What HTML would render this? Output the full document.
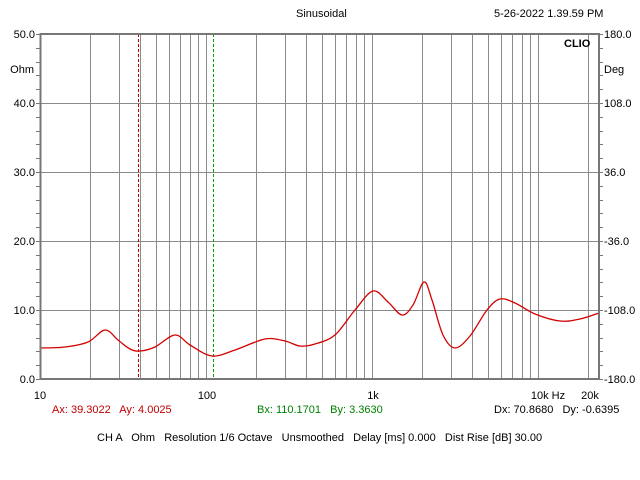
<!DOCTYPE html>
<html><head><meta charset="utf-8"><style>
html,body{margin:0;padding:0;background:#fff;}
svg{display:block;font-family:"Liberation Sans",Arial,sans-serif;font-size:11px;}
text{white-space:pre;}
</style></head><body>
<svg id="s" width="640" height="480" viewBox="0 0 640 480" xmlns="http://www.w3.org/2000/svg" xml:space="preserve">
<rect width="640" height="480" fill="#fff"/>
<g id="grid" stroke="#8a8a8a" stroke-width="1"></g>
<g id="ticks" stroke="#777" stroke-width="1"></g>
<line x1="138.5" y1="34" x2="138.5" y2="379" stroke="#c00000" stroke-width="1" stroke-dasharray="3,2"/>
<line x1="213.5" y1="34" x2="213.5" y2="379" stroke="#00a000" stroke-width="1" stroke-dasharray="3,2"/>
<path id="curve" fill="none" stroke="#d40000" stroke-width="1.3"/>
<rect x="40.5" y="34" width="558.5" height="345" fill="none" stroke="#777" stroke-width="2"/>
<text x="296" y="17">Sinusoidal</text>
<text x="494" y="17">5-26-2022 1.39.59 PM</text>
<text x="564" y="47" font-weight="bold">CLIO</text>
<g text-anchor="end">
<text x="35" y="38">50.0</text>
<text x="34" y="73">Ohm</text>
<text x="35" y="107">40.0</text>
<text x="35" y="176">30.0</text>
<text x="35" y="245">20.0</text>
<text x="35" y="314">10.0</text>
<text x="35" y="383">0.0</text>
</g>
<g>
<text x="604" y="38">180.0</text>
<text x="604" y="73">Deg</text>
<text x="604" y="107">108.0</text>
<text x="604" y="176">36.0</text>
<text x="604" y="245">-36.0</text>
<text x="604" y="314">-108.0</text>
<text x="604" y="383">-180.0</text>
</g>
<g text-anchor="middle">
<text x="40" y="399">10</text>
<text x="207" y="399">100</text>
<text x="373" y="399">1k</text>
<text x="548" y="399">10k Hz</text>
<text x="590" y="399">20k</text>
</g>
<text x="52" y="413" fill="#c00000">Ax: 39.3022   Ay: 4.0025</text>
<text x="257" y="413" fill="#008000">Bx: 110.1701   By: 3.3630</text>
<text x="494" y="413">Dx: 70.8680   Dy: -0.6395</text>
<text x="97" y="441">CH A   Ohm   Resolution 1/6 Octave   Unsmoothed   Delay [ms] 0.000   Dist Rise [dB] 30.00</text>
</svg>
<script>
var NS="http://www.w3.org/2000/svg";
function X(f){return 40+166*Math.log10(f/10);}
function ln(g,a,b,c,d){var l=document.createElementNS(NS,"line");l.setAttribute("x1",a);l.setAttribute("y1",b);l.setAttribute("x2",c);l.setAttribute("y2",d);g.appendChild(l);}
var g=document.getElementById("grid");
[10,100,1000,10000].forEach(function(d){for(var m=1;m<10;m++){var f=d*m;if(f<=10||f>20000)continue;var x=Math.round(X(f))+0.5;ln(g,x,34,x,379);}});
for(var v=10;v<50;v+=10){var y=Math.round(379-v*6.9)+0.5;ln(g,40,y,599,y);}
var t=document.getElementById("ticks");
for(var v=0;v<=50;v+=2){var y=Math.round(379-v*6.9)+0.5;ln(t,36,y,40,y);ln(t,599,y,603,y);}
var p=[[40,348],[65,347],[88,342],[105,330],[118,340],[130,349],[140,351],[155,347],[175,335],[190,345],[212,356],[235,350],[265,339],[285,341],[300,346],[315,344],[335,335],[355,310],[373,291],[388,302],[402,315],[413,305],[424,282],[432,300],[443,335],[455,348],[470,336],[487,310],[500,299],[515,303],[535,314],[560,321],[580,319],[599,313]];
var d="M"+p[0][0]+","+p[0][1];
for(var i=0;i<p.length-1;i++){var p0=p[Math.max(0,i-1)],p1=p[i],p2=p[i+1],p3=p[Math.min(p.length-1,i+2)];
d+=" C"+(p1[0]+(p2[0]-p0[0])/6)+","+(p1[1]+(p2[1]-p0[1])/6)+" "+(p2[0]-(p3[0]-p1[0])/6)+","+(p2[1]-(p3[1]-p1[1])/6)+" "+p2[0]+","+p2[1];}
document.getElementById("curve").setAttribute("d",d);
</script>
</body></html>
